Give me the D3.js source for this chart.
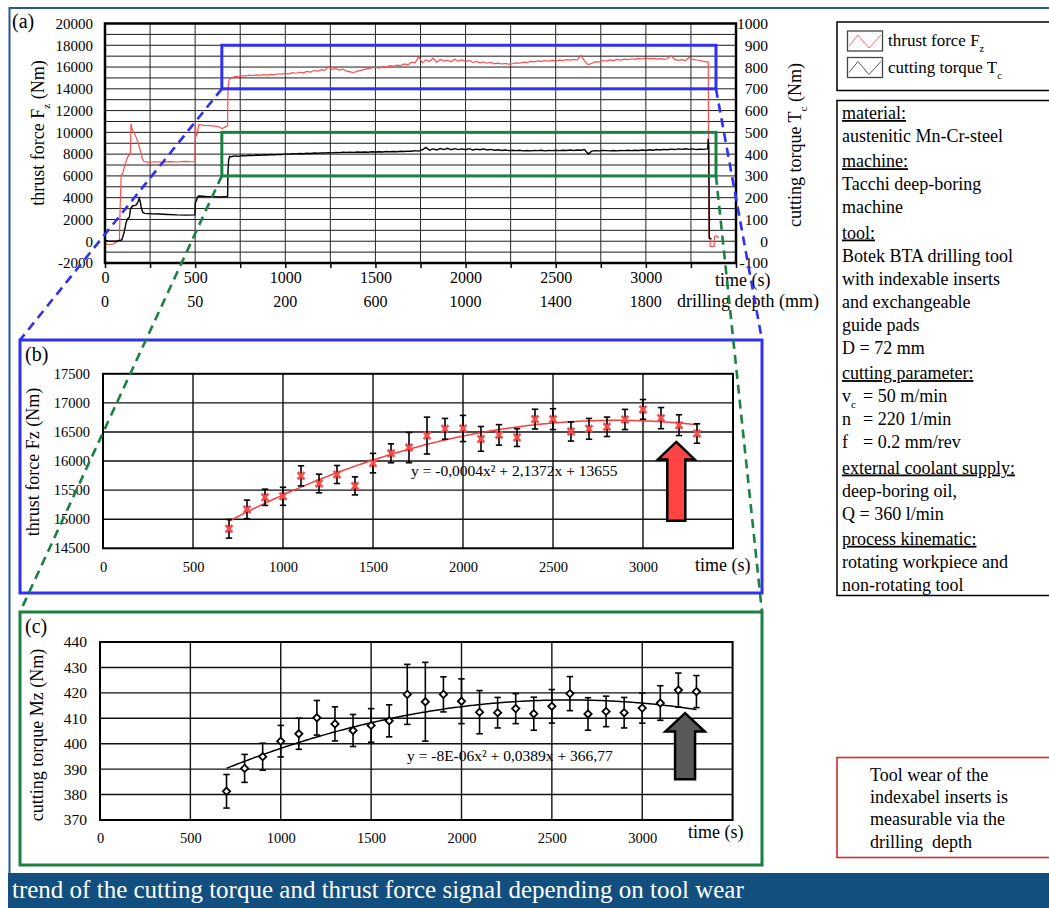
<!DOCTYPE html>
<html>
<head>
<meta charset="utf-8">
<script src="https://cdn.jsdelivr.net/npm/d3@7"></script>
<style>
  body { margin: 0; background: #fff; }
  svg, svg text { font-family: "Liberation Serif", "Times New Roman", serif; }
</style>
</head>
<body>
<svg id="fig" width="1049" height="908"></svg>
<script>
// ---------- (a) raw signals over the whole bore ----------
// start-up phase [time s, thrust N]
const thrustRamp = [[0,400],[4,-250],[25,-300],[45,-260],[58,-120],[70,-20],[80,60],[84,3200],[90,6100],[98,6200],[110,7000],[125,7700],[136,7950],[141,8050],[144,10800],[150,10300],[160,10000],[175,9450],[190,8700],[200,8100],[207,7600],[215,7350],[240,7250],[280,7300],[320,7260],[360,7310],[400,7280],[440,7330],[480,7300],[499,7300],[501,10700],[506,9700],[512,9900],[520,10700],[550,10650],[600,10600],[630,10520],[650,10350],[665,10480],[680,10600],[682,14100],[688,14800],[695,14950]];
// steady drilling, sampled every steadyStep seconds from steadyStart
const steadyStart = 700, steadyStep = 20;
const thrustSteady = [14950,15150,15100,15200,15180,15250,15200,15280,15230,15300,15260,15330,15290,15380,15350,15420,15380,15480,15430,15520,15470,15600,15540,15680,15620,15760,15700,16050,15780,15850,15720,15800,15620,15560,15500,15620,15700,15780,15850,15920,15980,15900,16050,16000,16120,16060,16180,16130,16280,16200,16450,16380,16950,16400,16650,16500,16820,16450,16700,16550,16620,16480,16720,16540,16650,16500,16600,16420,16520,16380,16460,16350,16420,16300,16360,16280,16330,16260,16300,16380,16350,16450,16400,16520,16480,16560,16520,16600,16550,16620,16580,16640,16600,16680,16630,16700,16650,17080,16550,16200,16350,16500,16450,16600,16550,16650,16600,16700,16640,16720,16680,16760,16700,16800,16740,16820,16760,16800,16720,16780,16700,16760,17050,16700,16620,16680,16600,16900,16700,16650,16600,16520,16480];
// tool exit
const thrustTail = [[3346,16450],[3350,300],[3356,300],[3357,-480],[3378,-480],[3381,400],[3392,500],[3405,300]];

// cutting torque [time s, torque Nm]
const torqueRamp = [[0,5],[20,0],[60,0],[74,2],[93,6],[106,40],[117,85],[126,104],[135,110],[142,150],[153,162],[165,165],[175,168],[185,185],[190,197],[196,180],[202,150],[210,132],[220,128],[260,126],[300,125],[350,123],[400,121],[450,120],[499,121],[501,177],[507,186],[512,200],[518,208],[560,206],[600,205],[640,203],[680,206],[682,320],[686,374],[692,390],[696,388]];
const torqueSteady = [388,392,390,393,392,395,393,396,395,397,396,398,397,399,398,401,400,402,401,403,402,404,403,405,404,406,405,407,406,408,407,409,408,409,408,410,409,410,409,411,410,411,410,412,411,412,411,413,412,414,413,416,414,420,431,418,424,419,426,421,427,420,425,421,424,420,425,419,423,420,424,419,422,418,420,417,419,416,418,416,418,415,417,415,417,416,418,415,417,416,418,416,418,417,419,417,419,418,421,401,414,416,415,417,416,415,417,415,417,416,418,416,418,417,419,417,420,418,421,419,422,420,423,421,424,422,425,422,424,421,423,422,424];
const torqueTail = [[3343,425],[3346,470],[3349,430],[3352,15],[3358,12],[3364,10]];

// axis ticks of (a)
const thrustTicksA = [-2000,0,2000,4000,6000,8000,10000,12000,14000,16000,18000,20000];
const thrustGridA = [-1000,0,1000,2000,3000,4000,5000,6000,7000,8000,9000,10000,11000,12000,13000,14000,15000,16000,17000,18000,19000];
const torqueTicksA = [-100,0,100,200,300,400,500,600,700,800,900,1000];
const timeMinorA = [0,250,500,750,1000,1250,1500,1750,2000,2250,2500,2750,3000,3250,3500];
const timeLabelsA = [0,500,1000,1500,2000,2500,3000];
const depthLabelsA = [0,50,200,600,1000,1400,1800];

// window analysed in (b) and (c)
const windowTime = [648, 3389];
const windowThrust = [14000, 18000];
const windowTorque = [300, 500];

// ---------- (b)/(c) averaged values per 100 s ----------
const sampleTimes = [700,800,900,1000,1100,1200,1300,1400,1500,1600,1700,1800,1900,2000,2100,2200,2300,2400,2500,2600,2700,2800,2900,3000,3100,3200,3300];
const thrustMean = [14835,15169,15377,15394,15746,15614,15769,15573,15965,16133,16231,16438,16554,16560,16381,16450,16404,16721,16721,16508,16554,16589,16715,16888,16738,16617,16473];
const thrustErr  = [160,160,140,155,173,160,155,155,167,163,260,317,179,225,213,176,153,170,179,164,179,167,173,170,182,179,167];
const torqueMean = [381.3,390.3,394.9,401.0,403.9,410.2,407.8,405.2,407.2,409.0,419.4,416.5,419.4,416.7,412.4,412.2,413.8,411.8,414.7,419.7,411.7,412.7,412.2,414.0,416.0,421.1,420.5];
const torqueErr  = [6.6,5.5,5.3,6.2,6.1,6.8,6.7,6.3,6.6,6.3,11.8,15.5,6.9,8.8,8.5,6.0,5.9,6.5,6.6,6.7,6.4,6.0,6.0,5.9,6.8,6.7,6.3];

// quadratic trend coefficients [a, b, c] for y = a x^2 + b x + c
const thrustFit = [-0.000375, 2.1372, 13655];
const torqueFit = [-7.5e-6, 0.0389, 366.77];
const fitRange = [700, 3300];
const thrustFitLabel = "y = -0,0004x² + 2,1372x + 13655";
const torqueFitLabel = "y = -8E-06x² + 0,0389x + 366,77";

const timeTicksBC = [0,500,1000,1500,2000,2500,3000];
const thrustTicksB = [14500,15000,15500,16000,16500,17000,17500];
const torqueTicksC = [370,380,390,400,410,420,430,440];

// ---------- side notes ----------
const infoLines = [
  {t:"material:", head:true},
  {t:"austenitic Mn-Cr-steel"},
  {t:"machine:", head:true},
  {t:"Tacchi deep-boring"},
  {t:"machine"},
  {t:"tool:", head:true},
  {t:"Botek BTA drilling tool"},
  {t:"with indexable inserts"},
  {t:"and exchangeable"},
  {t:"guide pads"},
  {t:"D = 72 mm"},
  {t:"cutting parameter:", head:true},
  {t:"v", sub:"c", rest:"= 50 m/min"},
  {t:"n", rest:"= 220 1/min"},
  {t:"f", rest:"= 0.2 mm/rev"},
  {t:"external coolant supply:", head:true},
  {t:"deep-boring oil,"},
  {t:"Q = 360 l/min"},
  {t:"process kinematic:", head:true},
  {t:"rotating workpiece and"},
  {t:"non-rotating tool"}
];
const wearNote = ["Tool wear of the","indexabel inserts is","measurable via the","drilling  depth"];
const caption = "trend of the cutting torque and thrust force signal depending on tool wear";

// ================= drawing =================
const SERIF = "Liberation Serif, Times New Roman, serif";
const svg = d3.select("#fig").attr("font-family", SERIF);
const BLUE = "#2f2ff5", GREEN = "#1b8043", RED = "#ff4747";
const plain = d => String(d);

function rich(sel, parts, size) {
  parts.forEach(p => {
    const s = sel.append("tspan").text(p.t);
    if (p.sub) s.attr("font-size", size * 0.62).attr("baseline-shift", "sub");
  });
  return sel;
}
function styleAxis(g, size) {
  g.attr("font-family", SERIF).attr("font-size", size);
  g.selectAll("text").attr("fill", "#000");
  g.select(".domain").remove();
}

// slide frame and caption bar
svg.append("path").attr("d", "M9.5,873 V8 H1049").attr("fill", "none")
  .attr("stroke", "#24598a").attr("stroke-width", 2);
svg.append("rect").attr("x", 8).attr("y", 873).attr("width", 1041).attr("height", 35).attr("fill", "#124f7e");
svg.append("text").attr("x", 12).attr("y", 898).attr("fill", "#fff").attr("font-size", 25).text(caption);

// ---------------- panel (a) ----------------
const A = {l:105, r:736, t:23.5, b:263};
const xA = d3.scaleLinear().domain([0, 3500]).range([A.l, A.r]);
const yA = d3.scaleLinear().domain([-2000, 20000]).range([A.b, A.t]);
const yAr = d3.scaleLinear().domain([-100, 1000]).range([A.b, A.t]);
const gA = svg.append("g");

gA.selectAll("line.hg").data(thrustGridA).join("line").attr("class", "hg")
  .attr("x1", A.l).attr("x2", A.r).attr("y1", d => yA(d)).attr("y2", d => yA(d))
  .attr("stroke", "#1a1a1a").attr("stroke-width", 1);
gA.selectAll("line.vg").data(timeMinorA.filter(d => d > 0 && d < 3500)).join("line").attr("class", "vg")
  .attr("x1", d => xA(d)).attr("x2", d => xA(d)).attr("y1", A.t).attr("y2", A.b)
  .attr("stroke", "#2a2a2a").attr("stroke-width", 1);

const bottomA = gA.append("g").attr("transform", `translate(0,${A.b})`)
  .call(d3.axisBottom(xA).tickValues(timeMinorA).tickSize(5).tickPadding(4)
    .tickFormat(d => timeLabelsA.includes(d) ? String(d) : ""));
styleAxis(bottomA, 16);
bottomA.selectAll("line").attr("stroke", "#000").attr("stroke-width", 1.5);

gA.selectAll("text.depth").data(depthLabelsA).join("text").attr("class", "depth")
  .attr("x", (d, i) => xA(timeLabelsA[i])).attr("y", 307).attr("text-anchor", "middle")
  .attr("font-size", 16).text(d => d);

const leftA = gA.append("g").attr("transform", `translate(${A.l},0)`)
  .call(d3.axisLeft(yA).tickValues(thrustTicksA).tickSize(0).tickPadding(12).tickFormat(plain));
styleAxis(leftA, 15);
const rightA = gA.append("g").attr("transform", `translate(${A.r},0)`)
  .call(d3.axisRight(yAr).tickValues(torqueTicksA).tickSize(0).tickFormat(plain));
styleAxis(rightA, 15.5);
rightA.selectAll("text").attr("text-anchor", "end").attr("x", 32);

const lineThrust = d3.line().x(d => xA(d[0])).y(d => yA(d[1]));
const lineTorque = d3.line().x(d => xA(d[0])).y(d => yAr(d[1]));
const thrustSeries = thrustRamp.concat(thrustSteady.map((v, i) => [steadyStart + i * steadyStep, v]), thrustTail);
const torqueSeries = torqueRamp.concat(torqueSteady.map((v, i) => [steadyStart + i * steadyStep, v]), torqueTail);
gA.append("path").attr("d", lineThrust(thrustSeries)).attr("fill", "none").attr("stroke", "#ff4d4d").attr("stroke-width", 1.2);
gA.append("path").attr("d", lineTorque(torqueSeries)).attr("fill", "none").attr("stroke", "#000").attr("stroke-width", 1.4);

gA.append("rect").attr("x", A.l).attr("y", A.t).attr("width", A.r - A.l).attr("height", A.b - A.t)
  .attr("fill", "none").attr("stroke", "#000").attr("stroke-width", 2.5);

// windows analysed below
gA.append("rect").attr("x", xA(windowTime[0])).attr("y", yA(windowThrust[1]))
  .attr("width", xA(windowTime[1]) - xA(windowTime[0])).attr("height", yA(windowThrust[0]) - yA(windowThrust[1]))
  .attr("fill", "none").attr("stroke", BLUE).attr("stroke-width", 3);
gA.append("rect").attr("x", xA(windowTime[0])).attr("y", yAr(windowTorque[1]))
  .attr("width", xA(windowTime[1]) - xA(windowTime[0])).attr("height", yAr(windowTorque[0]) - yAr(windowTorque[1]))
  .attr("fill", "none").attr("stroke", GREEN).attr("stroke-width", 3);

// axis titles (a)
rich(gA.append("text").attr("transform", "translate(44,133) rotate(-90)").attr("text-anchor", "middle").attr("font-size", 18),
  [{t:"thrust force F"}, {t:"z", sub:true}, {t:" (Nm)"}], 18);
rich(gA.append("text").attr("transform", "translate(801,145) rotate(-90)").attr("text-anchor", "middle").attr("font-size", 18),
  [{t:"cutting torque T"}, {t:"c", sub:true}, {t:" (Nm)"}], 18);
gA.append("text").attr("x", 715).attr("y", 286).attr("font-size", 18).text("time (s)");
gA.append("text").attr("x", 677).attr("y", 307).attr("font-size", 18).text("drilling depth (mm)");
gA.append("text").attr("x", 12).attr("y", 28).attr("font-size", 20).text("(a)");

// ---------------- legend and notes ----------------
const leg = svg.append("g");
leg.append("rect").attr("x", 837).attr("y", 22).attr("width", 230).attr("height", 68.5)
  .attr("fill", "none").attr("stroke", "#000").attr("stroke-width", 1.5);
[{c:"#ff6b6b", parts:[{t:"thrust force F"},{t:"z",sub:true}]}, {c:"#555", parts:[{t:"cutting torque T"},{t:"c",sub:true}]}]
  .forEach((it, i) => {
    const y0 = 31 + i * 26.5;
    leg.append("rect").attr("x", 847.5).attr("y", y0).attr("width", 35).attr("height", 20)
      .attr("fill", "#fff").attr("stroke", "#444").attr("stroke-width", 1.3);
    leg.append("path").attr("d", `M${849},${y0+15} L${858},${y0+4} L${869},${y0+17} L${881},${y0+4}`)
      .attr("fill", "none").attr("stroke", it.c).attr("stroke-width", 1);
    rich(leg.append("text").attr("x", 888).attr("y", y0 + 15).attr("font-size", 17), it.parts, 17);
  });

const info = svg.append("g");
info.append("rect").attr("x", 837).attr("y", 100.5).attr("width", 230).attr("height", 495)
  .attr("fill", "none").attr("stroke", "#000").attr("stroke-width", 1.5);
let yy = 119;
infoLines.forEach((ln, i) => {
  if (i > 0) yy += 23.1 + (ln.head ? 2 : 0);
  const t = info.append("text").attr("x", 842).attr("y", yy).attr("font-size", 18);
  if (ln.head) t.attr("text-decoration", "underline");
  rich(t, ln.sub ? [{t:ln.t}, {t:ln.sub, sub:true}] : [{t:ln.t}], 18);
  if (ln.rest) info.append("text").attr("x", 863).attr("y", yy).attr("font-size", 18).text(ln.rest);
});

const note = svg.append("g");
note.append("rect").attr("x", 837).attr("y", 757.5).attr("width", 230).attr("height", 100)
  .attr("fill", "none").attr("stroke", "#d42a2a").attr("stroke-width", 1.6);
note.selectAll("text").data(wearNote).join("text").attr("x", 870).attr("y", (d, i) => 781 + i * 22.2)
  .attr("font-size", 18).attr("xml:space", "preserve").text(d => d);

// ---------------- shared panel builder for (b) and (c) ----------------
function upArrow(g, tipX, tipY, headH, headHalf, shaftHalf, len, fill) {
  const p = d3.path();
  p.moveTo(tipX, tipY);
  p.lineTo(tipX + headHalf, tipY + headH);
  p.lineTo(tipX + shaftHalf, tipY + headH);
  p.lineTo(tipX + shaftHalf, tipY + len);
  p.lineTo(tipX - shaftHalf, tipY + len);
  p.lineTo(tipX - shaftHalf, tipY + headH);
  p.lineTo(tipX - headHalf, tipY + headH);
  p.closePath();
  g.append("path").attr("d", p.toString()).attr("fill", fill).attr("stroke", "#000").attr("stroke-width", 2.5).attr("stroke-linejoin", "miter");
}

function panel(cfg) {
  const g = svg.append("g");
  g.append("rect").attr("x", 20).attr("y", cfg.boxY).attr("width", 742).attr("height", 253)
    .attr("fill", "#fff").attr("stroke", cfg.boxColor).attr("stroke-width", 3);
  const x = d3.scaleLinear().domain([0, 3500]).range([cfg.l, cfg.r]);
  const y = d3.scaleLinear().domain(cfg.yDomain).range([cfg.b, cfg.t]);

  g.selectAll("line.hg").data(cfg.yTicks.slice(1, -1)).join("line").attr("class", "hg")
    .attr("x1", cfg.l).attr("x2", cfg.r).attr("y1", d => y(d)).attr("y2", d => y(d))
    .attr("stroke", "#111").attr("stroke-width", 1.4);
  g.selectAll("line.vg").data(timeTicksBC.slice(1)).join("line").attr("class", "vg")
    .attr("x1", d => x(d)).attr("x2", d => x(d)).attr("y1", cfg.t).attr("y2", cfg.b)
    .attr("stroke", "#111").attr("stroke-width", 1.4);
  g.append("rect").attr("x", cfg.l).attr("y", cfg.t).attr("width", cfg.r - cfg.l).attr("height", cfg.b - cfg.t)
    .attr("fill", "none").attr("stroke", "#000").attr("stroke-width", 2);

  const ax = g.append("g").attr("transform", `translate(0,${cfg.b})`)
    .call(d3.axisBottom(x).tickValues(timeTicksBC).tickSize(0).tickPadding(13).tickFormat(plain));
  styleAxis(ax, 14.5);
  const ay = g.append("g").attr("transform", `translate(${cfg.l},0)`)
    .call(d3.axisLeft(y).tickValues(cfg.yTicks).tickSize(0).tickPadding(13).tickFormat(plain));
  styleAxis(ay, cfg.yFont);

  // trend curve
  const fit = cfg.fit;
  const fx = d3.range(fitRange[0], fitRange[1] + 1, 10);
  g.append("path").attr("d", d3.line().x(d => x(d)).y(d => y(fit[0] * d * d + fit[1] * d + fit[2]))(fx))
    .attr("fill", "none").attr("stroke", cfg.fitColor).attr("stroke-width", 1.5);

  // error bars
  const pts = sampleTimes.map((t, i) => ({t, v: cfg.mean[i], e: cfg.err[i]}));
  const eb = g.append("g").attr("stroke", "#000").attr("stroke-width", 1.6);
  pts.forEach(d => {
    const cx = x(d.t), y1 = y(d.v + d.e), y2 = y(d.v - d.e);
    eb.append("line").attr("x1", cx).attr("x2", cx).attr("y1", y1).attr("y2", y2);
    eb.append("line").attr("x1", cx - 3.2).attr("x2", cx + 3.2).attr("y1", y1).attr("y2", y1);
    eb.append("line").attr("x1", cx - 3.2).attr("x2", cx + 3.2).attr("y1", y2).attr("y2", y2);
  });
  cfg.marker(g, pts, x, y);

  g.append("text").attr("x", cfg.eqX).attr("y", cfg.eqY).attr("font-size", 15.5).text(cfg.eq);
  upArrow(g, x(cfg.arrow[0]), y(cfg.arrow[1]), cfg.arrowGeom[0], cfg.arrowGeom[1], cfg.arrowGeom[2], cfg.arrowGeom[3], cfg.arrowFill);

  rich(g.append("text").attr("transform", `translate(${cfg.titleX},${cfg.titleY}) rotate(-90)`)
    .attr("text-anchor", "middle").attr("font-size", 18), [{t: cfg.title}], 18);
  g.append("text").attr("x", cfg.timeX).attr("y", cfg.timeY).attr("font-size", 18).text("time (s)");
  g.append("text").attr("x", 25).attr("y", cfg.tagY).attr("font-size", 20).text(cfg.tag);
  return {x, y};
}

panel({
  boxY: 340, boxColor: BLUE, l: 103, r: 733, t: 373.8, b: 548.3,
  yDomain: [14500, 17500], yTicks: thrustTicksB, yFont: 14.5,
  mean: thrustMean, err: thrustErr, fit: thrustFit, fitColor: "#ff3d3d",
  marker: (g, pts, x, y) => {
    g.selectAll("path.mk").data(pts).join("path").attr("class", "mk")
      .attr("transform", d => `translate(${x(d.t)},${y(d.v)})`)
      .attr("d", "M-3.4,-3.6L3.4,3.6M-3.4,3.6L3.4,-3.6")
      .attr("stroke", RED).attr("stroke-width", 2.6).attr("fill", "none");
  },
  eq: thrustFitLabel, eqX: 411, eqY: 475.5,
  arrow: [3185, 16330], arrowGeom: [17.6, 18.4, 9, 79], arrowFill: "#ff4444",
  title: "thrust force Fz (Nm)", titleX: 39, titleY: 462,
  timeX: 695, timeY: 571, tag: "(b)", tagY: 361
});

panel({
  boxY: 612, boxColor: GREEN, l: 100, r: 732.6, t: 642, b: 820,
  yDomain: [370, 440], yTicks: torqueTicksC, yFont: 15.5,
  mean: torqueMean, err: torqueErr, fit: torqueFit, fitColor: "#000",
  marker: (g, pts, x, y) => {
    g.selectAll("path.mk").data(pts).join("path").attr("class", "mk")
      .attr("transform", d => `translate(${x(d.t)},${y(d.v)})`)
      .attr("d", d3.symbol().type(d3.symbolDiamond2).size(34)())
      .attr("stroke", "#000").attr("stroke-width", 1.8).attr("fill", "#fff");
  },
  eq: torqueFitLabel, eqX: 407, eqY: 761,
  arrow: [3237, 412], arrowGeom: [18.4, 19.7, 10, 66], arrowFill: "#595959",
  title: "cutting torque Mz (Nm)", titleX: 43, titleY: 735,
  timeX: 688, timeY: 838, tag: "(c)", tagY: 633
});

// dashed connectors from the windows in (a) to panels (b) and (c)
const conn = svg.append("g").attr("fill", "none").attr("stroke-width", 2.6).attr("stroke-dasharray", "9,6");
const wl = xA(windowTime[0]), wr = xA(windowTime[1]);
conn.append("line").attr("x1", wl).attr("y1", yA(windowThrust[0])).attr("x2", 20).attr("y2", 340).attr("stroke", BLUE);
conn.append("line").attr("x1", wr).attr("y1", yA(windowThrust[0])).attr("x2", 762).attr("y2", 340).attr("stroke", BLUE);
conn.append("line").attr("x1", wl).attr("y1", yAr(windowTorque[0])).attr("x2", 20).attr("y2", 612).attr("stroke", GREEN);
conn.append("line").attr("x1", wr).attr("y1", yAr(windowTorque[0])).attr("x2", 762).attr("y2", 612).attr("stroke", GREEN);
</script>
</body>
</html>
